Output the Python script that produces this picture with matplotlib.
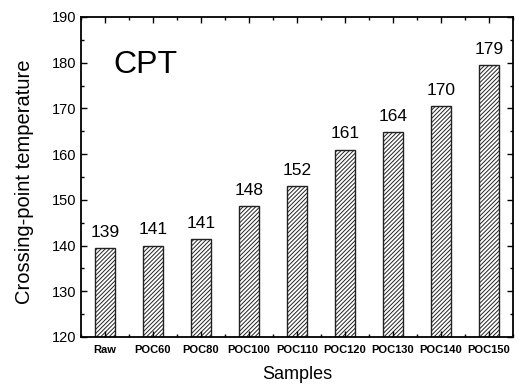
import matplotlib
matplotlib.use("Agg")
import matplotlib.pyplot as plt
from matplotlib.ticker import MultipleLocator

plt.rcParams['font.family'] = ['Liberation Sans', 'DejaVu Sans']
plt.rcParams['hatch.linewidth'] = 0.7

samples = ["Raw", "POC60", "POC80", "POC100", "POC110", "POC120", "POC130", "POC140", "POC150"]
cpt_values = [139.5, 140.0, 141.4, 148.7, 153.0, 161.0, 164.8, 170.5, 179.4]
value_labels = ["139", "141", "141", "148", "152", "161", "164", "170", "179"]

fig = plt.figure(figsize=(5.3, 3.89), dpi=100)
ax = fig.add_axes([0.1528, 0.1337, 0.8151, 0.8226])

x = list(range(len(samples)))
ax.bar(x, [v - 120 for v in cpt_values], bottom=120, width=0.42,
       color="white", edgecolor="#222222", linewidth=1.0, hatch="////////")

for i, (v, lab) in enumerate(zip(cpt_values, value_labels)):
    ax.annotate(lab, (i, v), xytext=(0, 8), textcoords="offset points",
                ha="center", va="baseline", fontsize=12.5)

ax.text(0.076, 0.825, "CPT", transform=ax.transAxes, fontsize=23, va="baseline", ha="left")

ax.set_xlim(-0.5, 8.5)
ax.set_ylim(120, 190)
ax.set_xticks(x)
ax.set_xticklabels(samples, fontsize=8, fontweight="bold")
ax.xaxis.set_minor_locator(MultipleLocator(0.5))
ax.yaxis.set_major_locator(MultipleLocator(10))
ax.yaxis.set_minor_locator(MultipleLocator(5))
ax.tick_params(axis="y", labelsize=10.5)
ax.tick_params(which="both", direction="in", top=True, right=True, width=1.0)
ax.tick_params(which="major", length=4)
ax.tick_params(which="minor", length=2.5)
ax.tick_params(axis="x", which="major", pad=6)
for s in ax.spines.values():
    s.set_linewidth(1.3)

ax.set_xlabel("Samples", fontsize=13, labelpad=8)
ax.set_ylabel("Crossing-point temperature", fontsize=14.5)
ax.yaxis.set_label_coords(-0.109, 0.486)

fig.savefig("out.png", dpi=100)
